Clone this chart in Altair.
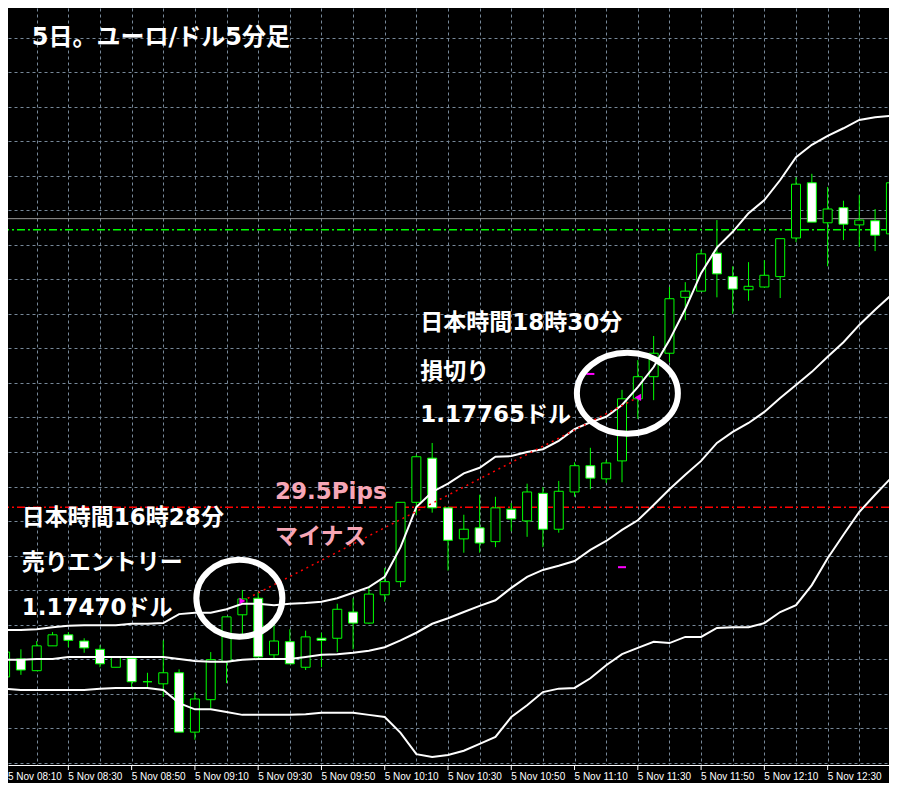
import altair as alt
import pandas as pd

# ---- EUR/USD 5-minute bars, 5 Nov (index 0 = 08:10 server time) ----
times = ["08:10", "08:15", "08:20", "08:25", "08:30", "08:35", "08:40", "08:45", "08:50", "08:55",
         "09:00", "09:05", "09:10", "09:15", "09:20", "09:25", "09:30", "09:35", "09:40", "09:45",
         "09:50", "09:55", "10:00", "10:05", "10:10", "10:15", "10:20", "10:25", "10:30", "10:35",
         "10:40", "10:45", "10:50", "10:55", "11:00", "11:05", "11:10", "11:15", "11:20", "11:25",
         "11:30", "11:35", "11:40", "11:45", "11:50", "11:55", "12:00", "12:05", "12:10", "12:15",
         "12:20", "12:25", "12:30", "12:35", "12:40", "12:45", "12:50"]

opens = [1.17360, 1.17386, 1.17369, 1.17405, 1.17421, 1.17412, 1.17400, 1.17374, 1.17387, 1.17353,
         1.17350, 1.17366, 1.17280, 1.17327, 1.17382, 1.17450, 1.17474, 1.17392, 1.17411, 1.17374,
         1.17416, 1.17416, 1.17454, 1.17438, 1.17479, 1.17498, 1.17613, 1.17677, 1.17605, 1.17560,
         1.17576, 1.17556, 1.17603, 1.17586, 1.17626, 1.17574, 1.17628, 1.17666, 1.17647, 1.17673,
         1.17763, 1.17795, 1.17829, 1.17910, 1.17919, 1.17974, 1.17940, 1.17921, 1.17925, 1.17940,
         1.17996, 1.18076, 1.18018, 1.18040, 1.18015, 1.18021, 1.18002]
highs = [1.17399, 1.17400, 1.17412, 1.17425, 1.17425, 1.17416, 1.17406, 1.17389, 1.17387, 1.17366,
         1.17413, 1.17371, 1.17337, 1.17396, 1.17447, 1.17486, 1.17483, 1.17435, 1.17429, 1.17427,
         1.17424, 1.17466, 1.17474, 1.17490, 1.17518, 1.17613, 1.17682, 1.17699, 1.17605, 1.17595,
         1.17624, 1.17621, 1.17612, 1.17640, 1.17635, 1.17644, 1.17671, 1.17692, 1.17674, 1.17776,
         1.17819, 1.17854, 1.17925, 1.17932, 1.17979, 1.18022, 1.17955, 1.17961, 1.17964, 1.17995,
         1.18084, 1.18089, 1.18070, 1.18050, 1.18058, 1.18038, 1.18080]
lows = [1.17358, 1.17363, 1.17369, 1.17405, 1.17403, 1.17395, 1.17374, 1.17374, 1.17344, 1.17344,
        1.17331, 1.17280, 1.17269, 1.17315, 1.17351, 1.17421, 1.17389, 1.17387, 1.17379, 1.17370,
        1.17374, 1.17396, 1.17400, 1.17437, 1.17469, 1.17490, 1.17595, 1.17598, 1.17514, 1.17540,
        1.17540, 1.17548, 1.17571, 1.17563, 1.17548, 1.17569, 1.17621, 1.17632, 1.17641, 1.17642,
        1.17734, 1.17761, 1.17816, 1.17877, 1.17919, 1.17910, 1.17886, 1.17905, 1.17924, 1.17909,
        1.17990, 1.18019, 1.17955, 1.17993, 1.17983, 1.17977, 1.17989]
closes = [1.17396, 1.17370, 1.17405, 1.17421, 1.17413, 1.17402, 1.17379, 1.17389, 1.17353, 1.17353,
          1.17366, 1.17280, 1.17328, 1.17385, 1.17447, 1.17473, 1.17389, 1.17412, 1.17379, 1.17418,
          1.17413, 1.17458, 1.17438, 1.17480, 1.17498, 1.17613, 1.17679, 1.17605, 1.17558, 1.17574,
          1.17554, 1.17605, 1.17589, 1.17628, 1.17574, 1.17629, 1.17666, 1.17648, 1.17670, 1.17763,
          1.17795, 1.17829, 1.17908, 1.17919, 1.17973, 1.17944, 1.17922, 1.17926, 1.17942, 1.17995,
          1.18074, 1.18019, 1.18038, 1.18016, 1.18022, 1.18000, 1.18076]

# ---- Bollinger bands ----
bb_upper = [1.17428, 1.17428, 1.17429, 1.17432, 1.17434, 1.17435, 1.17435, 1.17435, 1.17437, 1.17437,
            1.17438, 1.17451, 1.17453, 1.17453, 1.17458, 1.17466, 1.17466, 1.17464, 1.17466, 1.17467,
            1.17469, 1.17474, 1.17482, 1.17490, 1.17505, 1.17548, 1.17606, 1.17628, 1.17640, 1.17655,
            1.17663, 1.17679, 1.17680, 1.17686, 1.17690, 1.17702, 1.17719, 1.17729, 1.17737, 1.17754,
            1.17780, 1.17809, 1.17848, 1.17893, 1.17945, 1.17982, 1.18005, 1.18032, 1.18051, 1.18080,
            1.18113, 1.18131, 1.18144, 1.18155, 1.18167, 1.18171, 1.18173]
bb_middle = [1.17385, 1.17385, 1.17386, 1.17386, 1.17389, 1.17389, 1.17389, 1.17389, 1.17389, 1.17389,
             1.17389, 1.17386, 1.17383, 1.17382, 1.17382, 1.17385, 1.17386, 1.17386, 1.17386, 1.17389,
             1.17392, 1.17393, 1.17395, 1.17398, 1.17403, 1.17413, 1.17424, 1.17437, 1.17445, 1.17454,
             1.17463, 1.17471, 1.17489, 1.17505, 1.17515, 1.17521, 1.17528, 1.17544, 1.17557, 1.17573,
             1.17587, 1.17609, 1.17632, 1.17653, 1.17673, 1.17699, 1.17715, 1.17728, 1.17744, 1.17764,
             1.17783, 1.17802, 1.17824, 1.17845, 1.17870, 1.17892, 1.17913]
bb_lower = [1.17343, 1.17341, 1.17341, 1.17341, 1.17341, 1.17341, 1.17343, 1.17344, 1.17344, 1.17344,
            1.17341, 1.17322, 1.17313, 1.17313, 1.17309, 1.17305, 1.17305, 1.17305, 1.17305, 1.17306,
            1.17308, 1.17308, 1.17308, 1.17305, 1.17302, 1.17279, 1.17248, 1.17244, 1.17247, 1.17253,
            1.17263, 1.17273, 1.17302, 1.17319, 1.17338, 1.17343, 1.17344, 1.17358, 1.17377, 1.17393,
            1.17402, 1.17411, 1.17409, 1.17418, 1.17418, 1.17431, 1.17432, 1.17432, 1.17438, 1.17454,
            1.17464, 1.17493, 1.17532, 1.17566, 1.17599, 1.17624, 1.17648]

# ---- price levels / grid / ticks ----
grid_prices = [1.172359, 1.172859, 1.173359, 1.173859, 1.174359, 1.174859, 1.175359, 1.175859,
               1.176359, 1.176859, 1.177359, 1.177859, 1.178359, 1.178859, 1.179359, 1.179859,
               1.180359, 1.180859, 1.181359, 1.181859, 1.182359, 1.182859]
grid_k = [2, 4, 6, 8, 10, 12, 14, 16, 18, 20, 22, 24, 26, 28, 30, 32, 34, 36, 38, 40,
          42, 44, 46, 48, 50, 52, 54]
tick_k = [0, 4, 8, 12, 16, 20, 24, 28, 32, 36, 40, 44, 48, 52]
tick_labels = ["5 Nov 08:10", "5 Nov 08:30", "5 Nov 08:50", "5 Nov 09:10", "5 Nov 09:30",
               "5 Nov 09:50", "5 Nov 10:10", "5 Nov 10:30", "5 Nov 10:50", "5 Nov 11:10",
               "5 Nov 11:30", "5 Nov 11:50", "5 Nov 12:10", "5 Nov 12:30"]

red_level = 1.17606
green_level = 1.18008
bid_level = 1.18024

entry_k, entry_price = 15, 1.17470
stop_k, stop_price = 40, 1.17765

ellipse_k = [14.81, 39.34]
ellipse_price = [1.17474, 1.17771]

marker_k = [37, 39]
marker_price = [1.17799, 1.17519]

ann_text = ["5日。ユーロ/ドル5分足", "日本時間18時30分", "損切り", "1.17765ドル",
            "29.5Pips", "マイナス", "日本時間16時28分", "売りエントリー", "1.17470ドル"]
ann_k = [1.875, 26.44, 26.44, 26.44, 17.25, 17.25, 1.25, 1.25, 1.25]
ann_price = [1.18286, 1.17873, 1.17802, 1.17740, 1.17628, 1.17563, 1.17590, 1.17525, 1.17460]
ann_color = ["#ffffff", "#ffffff", "#ffffff", "#ffffff", "#f7a6b6", "#f7a6b6", "#ffffff", "#ffffff", "#ffffff"]
ann_size = [24, 23, 23, 23, 23, 23, 23, 23, 23]

# ---- chart ----
W, H = 881, 757
GRID = "#778899"
FONT = "DejaVu Sans, Noto Sans CJK JP"

xs = alt.Scale(domain=[0.5, 55.5625], nice=False, zero=False)
ys = alt.Scale(domain=[1.1723236, 1.1832926], nice=False, zero=False)
x_axis = alt.Axis(values=grid_k, grid=True, gridColor=GRID, gridDash=[3, 3], gridWidth=1,
                  labels=False, ticks=False, domain=True, domainColor="#ffffff", domainWidth=1,
                  title=None)
y_axis = alt.Axis(values=grid_prices, grid=True, gridColor=GRID, gridDash=[3, 3], gridWidth=1,
                  labels=False, ticks=False, domain=False, title=None)


def X(field):
    return alt.X(field, type="quantitative", scale=xs, axis=x_axis)


def Y(field):
    return alt.Y(field, type="quantitative", scale=ys, axis=y_axis)


n = len(opens)
candles = pd.DataFrame({"k": list(range(n)), "time": times, "open": opens, "high": highs,
                        "low": lows, "close": closes})
candles["dir"] = ["up" if c >= o else "down" for o, c in zip(opens, closes)]

bands = pd.DataFrame({
    "k": list(range(n)) * 3,
    "price": bb_upper + bb_middle + bb_lower,
    "band": ["upper"] * n + ["middle"] * n + ["lower"] * n,
})

levels = pd.DataFrame({"price": [red_level, green_level, bid_level],
                       "name": ["red", "green", "bid"]})

wicks = alt.Chart(candles).mark_rule(color="#00ff00", strokeWidth=1).encode(
    x=X("k"), y=Y("low"), y2="high")

bodies = alt.Chart(candles).mark_bar(size=9, stroke="#00ff00", strokeWidth=1).encode(
    x=X("k"), y=Y("open"), y2="close",
    fill=alt.Fill("dir:N", scale=alt.Scale(domain=["up", "down"], range=["#000000", "#ffffff"]),
                  legend=None))

red_line = alt.Chart(levels[levels.name == "red"]).mark_rule(
    color="#ff0000", strokeWidth=1.5, strokeDash=[8, 3, 2, 3]).encode(y=Y("price"))
green_line = alt.Chart(levels[levels.name == "green"]).mark_rule(
    color="#00ff00", strokeWidth=1.5, strokeDash=[8, 3, 2, 3]).encode(y=Y("price"))
bid_line = alt.Chart(levels[levels.name == "bid"]).mark_rule(
    color="#9a9a9a", strokeWidth=1).encode(y=Y("price"))

band_lines = alt.Chart(bands).mark_line(color="#ffffff", strokeWidth=2).encode(
    x=X("k"), y=Y("price"), detail="band:N")

trade = pd.DataFrame({"k": [entry_k, stop_k], "price": [entry_price, stop_price]})
trade_line = alt.Chart(trade).mark_line(color="#ff0000", strokeWidth=1.5, strokeDash=[2, 4]).encode(
    x=X("k"), y=Y("price"))

entry_pt = alt.Chart(trade.iloc[[0]]).mark_point(
    shape="triangle-right", filled=True, color="#ff00ff", size=45, opacity=1).encode(
    x=X("k"), y=Y("price"))
stop_pt = alt.Chart(trade.iloc[[1]]).mark_point(
    shape="triangle-left", filled=True, color="#ff00ff", size=55, opacity=1).encode(
    x=X("k"), y=Y("price"))

markers = pd.DataFrame({"k": marker_k, "price": marker_price})
marker_pts = alt.Chart(markers).mark_point(
    shape="M -1 0 L 1 0", filled=False, stroke="#ff00ff", strokeWidth=2, size=64, opacity=1).encode(
    x=X("k"), y=Y("price"))

ell = pd.DataFrame({"k": ellipse_k, "price": ellipse_price})
ell1 = alt.Chart(ell.iloc[[0]]).mark_point(
    shape="M -1 0 A 1 0.894 0 1 1 1 0 A 1 0.894 0 1 1 -1 0 Z",
    filled=False, stroke="#ffffff", strokeWidth=6, size=7400, opacity=1).encode(
    x=X("k"), y=Y("price"))
ell2 = alt.Chart(ell.iloc[[1]]).mark_point(
    shape="M -1 0 A 1 0.80 0 1 1 1 0 A 1 0.80 0 1 1 -1 0 Z",
    filled=False, stroke="#ffffff", strokeWidth=6, size=10201, opacity=1).encode(
    x=X("k"), y=Y("price"))

ann = pd.DataFrame({"k": ann_k, "price": ann_price, "text": ann_text,
                    "color": ann_color, "fs": ann_size})
ann_layer = alt.Chart(ann).mark_text(align="left", baseline="middle", font=FONT,
                                     fontWeight="bold", dx=-3).encode(
    x=X("k"), y=Y("price"), text="text:N",
    color=alt.Color("color:N", scale=None),
    size=alt.Size("fs:Q", scale=None))

ticks_df = pd.DataFrame({"k": tick_k, "label": tick_labels})
tick_marks = alt.Chart(ticks_df).mark_rule(color="#ffffff", strokeWidth=1).encode(
    x=X("k"), y=alt.value(H), y2=alt.value(H + 5))
# labels whose tick lies inside the plot
tick_text = alt.Chart(ticks_df[ticks_df.k > 0]).mark_text(
    align="left", baseline="alphabetic", dx=0, color="#ffffff", font="Liberation Sans",
    fontSize=10).encode(
    x=X("k"), y=alt.value(H + 15), text="label:N")
# first label: its tick is just off the left edge, keep the text inside the chart
first_text = alt.Chart(ticks_df[ticks_df.k == 0]).mark_text(
    align="left", baseline="alphabetic", color="#ffffff", font="Liberation Sans",
    fontSize=10).encode(
    x=alt.value(0), y=alt.value(H + 15), text="label:N")

chart = alt.layer(
    red_line, green_line, bid_line,
    wicks, bodies, band_lines, trade_line,
    entry_pt, stop_pt, marker_pts, ell1, ell2,
    ann_layer, tick_marks, tick_text, first_text,
).properties(
    width=W, height=H,
    padding={"left": 0, "top": 0, "right": 0, "bottom": 18},
    autosize=alt.AutoSizeParams(type="none"),
    background="#000000",
).configure_view(strokeWidth=0)

chart.save("out.html", embed_options={"renderer": "svg", "actions": False})
